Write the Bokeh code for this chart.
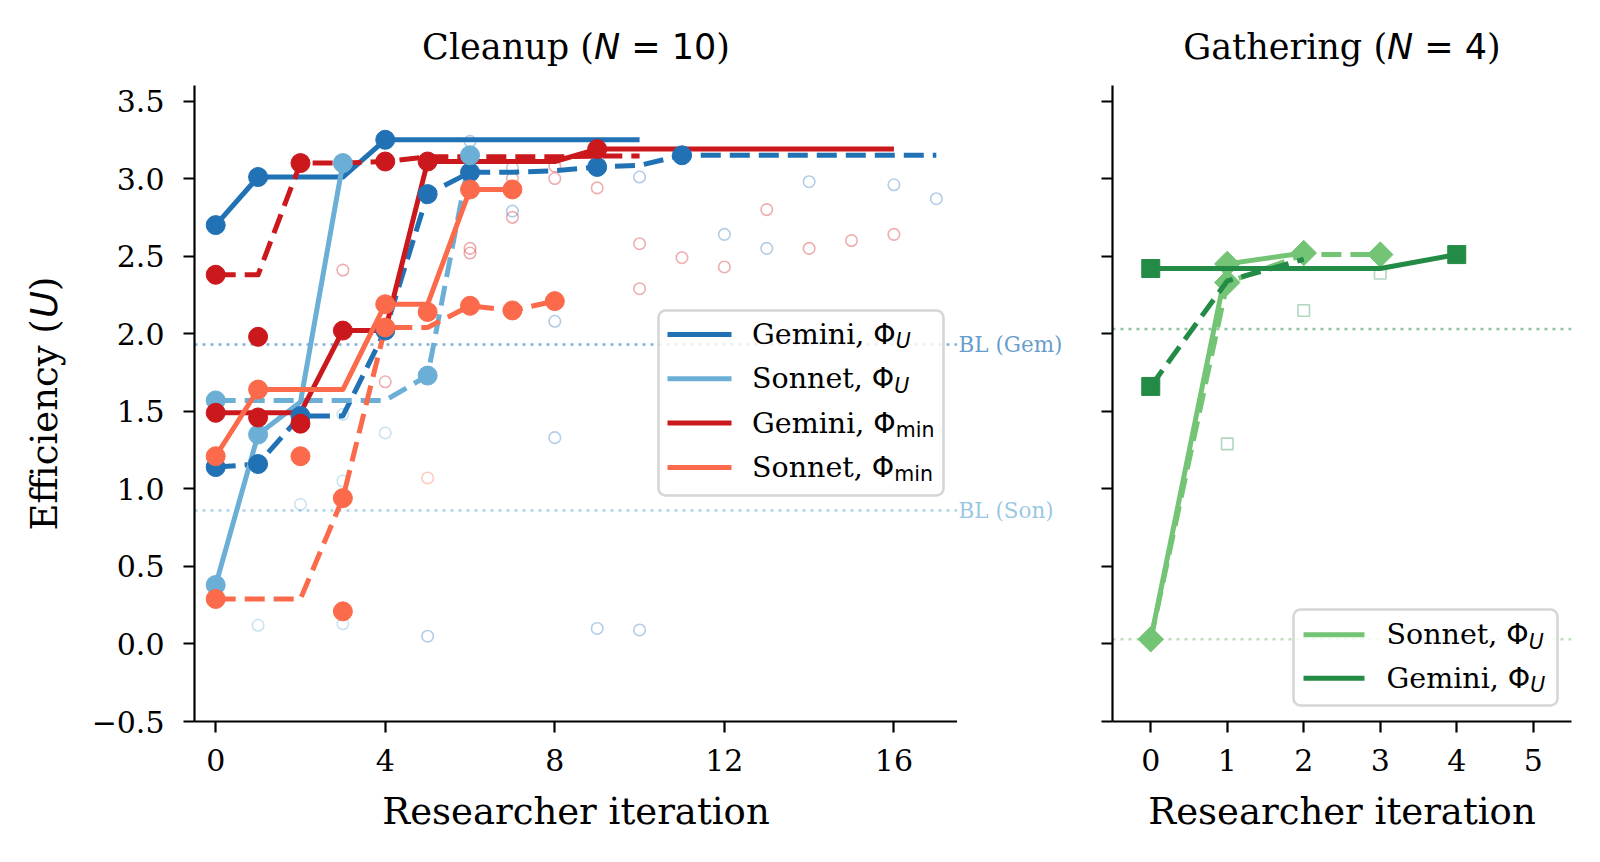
import glob
import os
import struct

import numpy as np
from bokeh.embed import file_html
from bokeh.layouts import column, row
from bokeh.models import (BoxAnnotation, CustomJSTickFormatter, FixedTicker,
                          Label, Range1d, Span)
from bokeh.plotting import figure
from bokeh.resources import INLINE

# ------------------------------------------------------------------
# Cleanup (N = 10): efficiency of the policy per researcher iteration
# run A = solid line, run B = dashed line; filled = kept, hollow = others
# ------------------------------------------------------------------
gem_u_a_x = [0, 1, 2, 3, 4, 5, 6, 7, 8, 9, 10]
gem_u_a_y = [2.70, 3.01, 3.01, 3.01, 3.25, 3.25, 3.25, 3.25, 3.25, 3.25, 3.25]
gem_u_a_pts_x = [0, 1, 4]
gem_u_a_pts_y = [2.70, 3.01, 3.25]

gem_u_b_x = [0, 1, 2, 3, 4, 5, 6, 7, 8, 9, 10, 11, 12, 13, 14, 15, 16, 17]
gem_u_b_y = [1.14, 1.16, 1.47, 1.47, 2.02, 2.90, 3.04, 3.04, 3.05, 3.075, 3.085,
             3.15, 3.15, 3.15, 3.15, 3.15, 3.15, 3.15]
gem_u_b_pts_x = [0, 1, 2, 4, 5, 6, 9, 11]
gem_u_b_pts_y = [1.14, 1.16, 1.47, 2.02, 2.90, 3.04, 3.075, 3.15]

gem_u_other_x = [5, 6, 7, 7, 8, 8, 9, 10, 10, 12, 13, 14, 16, 17]
gem_u_other_y = [0.05, 3.24, 3.07, 2.79, 2.08, 1.33, 0.10, 3.01, 0.09, 2.64, 2.55,
                 2.98, 2.96, 2.87]

son_u_a_x = [0, 1, 2, 3]
son_u_a_y = [0.38, 1.35, 1.56, 3.10]
son_u_a_pts_x = [0, 1, 3]
son_u_a_pts_y = [0.38, 1.35, 3.10]

son_u_b_x = [0, 1, 2, 3, 4, 5, 6]
son_u_b_y = [1.57, 1.57, 1.57, 1.57, 1.57, 1.73, 3.15]
son_u_b_pts_x = [0, 5, 6]
son_u_b_pts_y = [1.57, 1.73, 3.15]

son_u_other_x = [1, 2, 3, 3, 3, 4]
son_u_other_y = [0.12, 0.90, 1.05, 0.13, 1.48, 1.36]

gem_min_a_x = [0, 1, 2, 3, 4, 5, 6, 7, 8, 9, 10, 11, 12, 13, 14, 15, 16]
gem_min_a_y = [1.49, 1.49, 1.49, 2.02, 2.02, 3.11, 3.11, 3.11, 3.11, 3.19, 3.19,
               3.19, 3.19, 3.19, 3.19, 3.19, 3.19]
gem_min_a_pts_x = [0, 1, 2, 3, 5, 9]
gem_min_a_pts_y = [1.49, 1.46, 1.42, 2.02, 3.11, 3.19]

gem_min_b_x = [0, 1, 2, 3, 4, 5, 6, 7, 8, 9, 10]
gem_min_b_y = [2.38, 2.38, 3.10, 3.10, 3.11, 3.14, 3.14, 3.14, 3.14, 3.145, 3.145]
gem_min_b_pts_x = [0, 1, 2, 4]
gem_min_b_pts_y = [2.38, 1.98, 3.10, 3.11]

gem_min_other_x = [3, 4, 6, 6, 7, 7, 8, 8, 9, 10, 10, 11, 12, 13, 14, 15, 16]
gem_min_other_y = [2.41, 1.69, 2.55, 2.52, 2.75, 3.00, 3.08, 3.00, 2.94, 2.58, 2.29,
                   2.49, 2.43, 2.80, 2.55, 2.60, 2.64]

son_min_a_x = [0, 1, 2, 3, 4, 5, 6, 7]
son_min_a_y = [1.21, 1.64, 1.64, 1.64, 2.19, 2.19, 2.93, 2.93]
son_min_a_pts_x = [0, 1, 2, 4, 5, 6, 7]
son_min_a_pts_y = [1.21, 1.64, 1.21, 2.19, 2.14, 2.93, 2.93]

son_min_b_x = [0, 1, 2, 3, 4, 5, 6, 7, 8]
son_min_b_y = [0.29, 0.29, 0.29, 0.94, 2.04, 2.04, 2.18, 2.15, 2.21]
son_min_b_pts_x = [0, 3, 3, 4, 6, 7, 8]
son_min_b_pts_y = [0.29, 0.94, 0.21, 2.04, 2.18, 2.15, 2.21]

son_min_other_x = [5]
son_min_other_y = [1.07]

cleanup_baselines = [1.93, 0.86]
cleanup_baseline_labels = ["BL (Gem)", "BL (Son)"]

# ------------------------------------------------------------------
# Gathering (N = 4)
# ------------------------------------------------------------------
son_g_a_x = [0, 1, 2]
son_g_a_y = [0.03, 2.45, 2.52]
son_g_b_x = [0, 1, 2, 3]
son_g_b_y = [0.03, 2.33, 2.51, 2.51]
son_g_pts_x = [0, 1, 2, 1, 3]
son_g_pts_y = [0.03, 2.45, 2.52, 2.33, 2.51]

gem_g_a_x = [0, 1, 2, 3, 4]
gem_g_a_y = [2.42, 2.42, 2.42, 2.42, 2.51]
gem_g_b_x = [0, 1, 2]
gem_g_b_y = [1.66, 2.34, 2.48]
gem_g_pts_x = [0, 4, 0]
gem_g_pts_y = [2.42, 2.51, 1.66]
gem_g_other_x = [1, 2, 3]
gem_g_other_y = [1.29, 2.15, 2.39]

gathering_baselines = [2.03, 0.03]

y_ticks = [-0.5, 0.0, 0.5, 1.0, 1.5, 2.0, 2.5, 3.0, 3.5]
cleanup_x_ticks = [0, 4, 8, 12, 16]
gathering_x_ticks = [0, 1, 2, 3, 4, 5]

C_GEM_U = "#2171b5"
C_SON_U = "#6baed6"
C_GEM_MIN = "#cb181d"
C_SON_MIN = "#fb6a4a"
C_SON_G = "#74c476"
C_GEM_G = "#238b45"

DASH = "20 9"
DOT = "3 5"
LW = 5


# ------------------------------------------------------------------
# glyph advance widths, used to lay out mixed-font labels
# ------------------------------------------------------------------
def _find_font(name):
    for root in ("/usr/share/fonts", "/usr/local/share/fonts",
                 os.path.expanduser("~/.fonts"), os.path.expanduser("~/.local/share/fonts")):
        hits = glob.glob(os.path.join(root, "**", name), recursive=True)
        if hits:
            return hits[0]
    return None


class FontMetrics:
    def __init__(self, filename, fallback_em):
        self.fallback_em = fallback_em
        self.ok = False
        path = _find_font(filename)
        if path:
            try:
                self._load(path)
                self.ok = True
            except Exception:
                self.ok = False

    def _load(self, path):
        with open(path, "rb") as fh:
            data = fh.read()
        n_tables = struct.unpack_from(">H", data, 4)[0]
        tables = {}
        for i in range(n_tables):
            tag, _chk, off, _ln = struct.unpack_from(">4sIII", data, 12 + 16 * i)
            tables[tag] = off
        self.upem = struct.unpack_from(">H", data, tables[b"head"] + 18)[0]
        n_hm = struct.unpack_from(">H", data, tables[b"hhea"] + 34)[0]
        hmtx = tables[b"hmtx"]
        self.adv = [struct.unpack_from(">H", data, hmtx + 4 * i)[0] for i in range(n_hm)]
        cmap = tables[b"cmap"]
        n_sub = struct.unpack_from(">H", data, cmap + 2)[0]
        self.glyph = {}
        for i in range(n_sub):
            pid, eid, off = struct.unpack_from(">HHI", data, cmap + 4 + 8 * i)
            sub = cmap + off
            if struct.unpack_from(">H", data, sub)[0] != 4 or (pid, eid) not in ((3, 1), (0, 3)):
                continue
            seg2 = struct.unpack_from(">H", data, sub + 6)[0]
            n = seg2 // 2
            ends = struct.unpack_from(">%dH" % n, data, sub + 14)
            starts = struct.unpack_from(">%dH" % n, data, sub + 16 + seg2)
            deltas = struct.unpack_from(">%dh" % n, data, sub + 16 + 2 * seg2)
            ro_base = sub + 16 + 3 * seg2
            offsets = struct.unpack_from(">%dH" % n, data, ro_base)
            for s in range(n):
                for code in range(starts[s], ends[s] + 1):
                    if code == 0xFFFF:
                        continue
                    if offsets[s] == 0:
                        g = (code + deltas[s]) & 0xFFFF
                    else:
                        addr = ro_base + 2 * s + offsets[s] + 2 * (code - starts[s])
                        g = struct.unpack_from(">H", data, addr)[0]
                        if g:
                            g = (g + deltas[s]) & 0xFFFF
                    self.glyph[code] = g
            break

    def width(self, text, size):
        if not self.ok:
            return self.fallback_em * size * len(text)
        total = 0
        for ch in text:
            g = self.glyph.get(ord(ch), 0)
            total += self.adv[g] if g < len(self.adv) else self.adv[-1]
        return total / self.upem * size


METRICS = {
    "serif": FontMetrics("DejaVuSerif.ttf", 0.60),
    "sans": FontMetrics("DejaVuSans.ttf", 0.62),
    "sans-it": FontMetrics("DejaVuSans-Oblique.ttf", 0.62),
}
FACE = {"serif": ("DejaVu Serif", "normal"),
        "sans": ("DejaVu Sans", "normal"),
        "sans-it": ("DejaVu Sans", "italic")}
# Label anchors sit this fraction of the font size above the drawn baseline
BASELINE_SHIFT = 0.37


class Panel:
    """Maps page pixel positions onto a figure's data space."""

    def __init__(self, fig, left, top, width, height, xr, yr):
        self.fig, self.left, self.top = fig, left, top
        self.width, self.height, self.xr, self.yr = width, height, xr, yr

    def to_data(self, px, py):
        x = self.xr[0] + (px - self.left) / self.width * (self.xr[1] - self.xr[0])
        y = self.yr[1] - (py - self.top) / self.height * (self.yr[1] - self.yr[0])
        return x, y

    def page_y(self, y):
        return self.top + (self.yr[1] - y) / (self.yr[1] - self.yr[0]) * self.height

    def put_text(self, pieces, px, py, align="left", angle=0.0, color="black", alpha=1.0):
        """Draws runs of text in different faces side by side on one baseline."""
        widths = [METRICS[k].width(t, s) for t, k, s, _ in pieces]
        offset = -sum(widths) / 2 if align == "center" else 0.0
        for (t, k, s, rise), w in zip(pieces, widths):
            body = t.strip()
            lead = METRICS[k].width(t[:len(t) - len(t.lstrip())], s)
            drop = rise - BASELINE_SHIFT * s
            if angle == 0:
                qx, qy = px + offset + lead, py + drop
            else:
                qx, qy = px + drop, py - offset - lead
            x, y = self.to_data(qx, qy)
            family, style = FACE[k]
            self.fig.add_layout(Label(
                x=x, y=y, text=body, text_font=family, text_font_style=style,
                text_font_size=f"{s}px", text_color=color, text_alpha=alpha,
                text_align="left", text_baseline="alphabetic", angle=angle))
            offset += w

    def box(self, x0, y0, x1, y1, **kw):
        l, t = self.to_data(x0, y0)
        r, b = self.to_data(x1, y1)
        self.fig.add_layout(BoxAnnotation(left=l, right=r, top=t, bottom=b, **kw))


# page geometry (pixels)
PAGE_W, PAGE_H = 1600, 862
TOP_STRIP = 85
FRAME_H = 636
AXIS_BELOW = 70
MID_H = FRAME_H + AXIS_BELOW
BOTTOM_STRIP = PAGE_H - TOP_STRIP - MID_H
YLAB_W = 80
P1_LEFT, P1_FRAME_W = 114, 763
GAP_W = 115
P2_LEFT, P2_FRAME_W, P2_RIGHT = 40, 459, 29
YR = (-0.5, 3.6)


def text_strip(width, height, left, top, below=0):
    """A bare canvas for text; `below` keeps its frame level with the plots beside it."""
    frame_h = height - below
    f = figure(width=width, height=height, x_range=Range1d(0, width),
               y_range=Range1d(frame_h, 0), output_backend="svg", toolbar_location=None,
               x_axis_location=None, y_axis_location=None,
               min_border_left=0, min_border_right=0, min_border_top=0,
               min_border_bottom=below)
    f.outline_line_color = None
    f.background_fill_color = "white"
    f.border_fill_color = "white"
    for g in f.grid:
        g.visible = False
    return Panel(f, left, top, width, frame_h, (0, width), (frame_h, 0))


def make_figure(frame_w, xr, border_left, border_right):
    p = figure(width=border_left + frame_w + border_right, height=MID_H,
               x_range=Range1d(*xr), y_range=Range1d(*YR),
               output_backend="svg", toolbar_location=None,
               min_border_left=border_left, min_border_right=border_right,
               min_border_top=0, min_border_bottom=AXIS_BELOW)
    p.xgrid.visible = False
    p.ygrid.visible = False
    p.outline_line_color = None
    p.background_fill_color = "white"
    p.border_fill_color = "white"
    for ax in (p.xaxis[0], p.yaxis[0]):
        ax.axis_line_width = 2.2
        ax.axis_line_color = "black"
        ax.major_tick_line_width = 2.2
        ax.major_tick_line_color = "black"
        ax.major_tick_out = 11
        ax.major_tick_in = 0
        ax.minor_tick_line_color = None
        ax.major_label_text_font = "DejaVu Serif"
        ax.major_label_text_font_size = "30px"
        ax.major_label_text_color = "black"
    p.yaxis[0].ticker = FixedTicker(ticks=y_ticks)
    p.yaxis[0].major_label_standoff = 19
    p.xaxis[0].major_label_standoff = 16
    p.xaxis[0].formatter = CustomJSTickFormatter(code="return tick.toFixed(0);")
    return p


def run(p, xs, ys, color, dash):
    p.line(xs, ys, line_color=color, line_width=LW, line_dash=dash, line_join="round")


def kept(p, xs, ys, color, marker="circle", size=19, angle=0.0):
    p.scatter(xs, ys, marker=marker, size=size, angle=angle,
              fill_color=color, line_color=color, line_width=1)


def others(p, xs, ys, color, marker="circle", size=11.5):
    p.scatter(xs, ys, marker=marker, size=size, fill_color=None,
              line_color=color, line_alpha=0.35, line_width=1.6)


# ------------------------------- left panel -------------------------------
XR1 = (-0.5, 17.5)
p1 = make_figure(P1_FRAME_W, XR1, P1_LEFT, 0)
p1.yaxis[0].formatter = CustomJSTickFormatter(
    code="return tick < 0 ? '\u2212' + (-tick).toFixed(1) : tick.toFixed(1);")
p1.xaxis[0].ticker = FixedTicker(ticks=cleanup_x_ticks)
frame1_left = YLAB_W + P1_LEFT
left = Panel(p1, frame1_left, TOP_STRIP, P1_FRAME_W, FRAME_H, XR1, YR)

for level, color in zip(cleanup_baselines, [C_GEM_U, C_SON_U]):
    p1.add_layout(Span(location=level, dimension="width", line_color=color,
                       line_alpha=0.55, line_width=2.6, line_dash=DOT, level="underlay"))

others(p1, gem_u_other_x, gem_u_other_y, C_GEM_U)
others(p1, son_u_other_x, son_u_other_y, C_SON_U)
others(p1, gem_min_other_x, gem_min_other_y, C_GEM_MIN)
others(p1, son_min_other_x, son_min_other_y, C_SON_MIN)

run(p1, gem_u_a_x, gem_u_a_y, C_GEM_U, "solid")
run(p1, gem_u_b_x, gem_u_b_y, C_GEM_U, DASH)
run(p1, son_u_a_x, son_u_a_y, C_SON_U, "solid")
run(p1, son_u_b_x, son_u_b_y, C_SON_U, DASH)
run(p1, gem_min_a_x, gem_min_a_y, C_GEM_MIN, "solid")
run(p1, gem_min_b_x, gem_min_b_y, C_GEM_MIN, DASH)
run(p1, son_min_a_x, son_min_a_y, C_SON_MIN, "solid")
run(p1, son_min_b_x, son_min_b_y, C_SON_MIN, DASH)

kept(p1, gem_u_a_pts_x, gem_u_a_pts_y, C_GEM_U)
kept(p1, gem_u_b_pts_x, gem_u_b_pts_y, C_GEM_U)
kept(p1, son_u_a_pts_x, son_u_a_pts_y, C_SON_U)
kept(p1, son_u_b_pts_x, son_u_b_pts_y, C_SON_U)
kept(p1, gem_min_a_pts_x, gem_min_a_pts_y, C_GEM_MIN)
kept(p1, gem_min_b_pts_x, gem_min_b_pts_y, C_GEM_MIN)
kept(p1, son_min_a_pts_x, son_min_a_pts_y, C_SON_MIN)
kept(p1, son_min_b_pts_x, son_min_b_pts_y, C_SON_MIN)

# ------------------------------- right panel ------------------------------
XR2 = (-0.5, 5.5)
p2 = make_figure(P2_FRAME_W, XR2, P2_LEFT, P2_RIGHT)
p2.yaxis[0].formatter = CustomJSTickFormatter(code="return '';")
p2.yaxis[0].major_label_standoff = 0
p2.xaxis[0].ticker = FixedTicker(ticks=gathering_x_ticks)
p2_page_left = YLAB_W + P1_LEFT + P1_FRAME_W + GAP_W
right = Panel(p2, p2_page_left + P2_LEFT, TOP_STRIP, P2_FRAME_W, FRAME_H, XR2, YR)

for level, color in zip(gathering_baselines, [C_GEM_G, C_SON_G]):
    p2.add_layout(Span(location=level, dimension="width", line_color=color,
                       line_alpha=0.5, line_width=2.6, line_dash=DOT, level="underlay"))

others(p2, gem_g_other_x, gem_g_other_y, C_GEM_G, marker="square", size=11.5)
run(p2, son_g_a_x, son_g_a_y, C_SON_G, "solid")
run(p2, son_g_b_x, son_g_b_y, C_SON_G, DASH)
kept(p2, son_g_pts_x, son_g_pts_y, C_SON_G, marker="square", size=18, angle=np.pi / 4)
run(p2, gem_g_a_x, gem_g_a_y, C_GEM_G, "solid")
run(p2, gem_g_b_x, gem_g_b_y, C_GEM_G, DASH)
kept(p2, gem_g_pts_x, gem_g_pts_y, C_GEM_G, marker="square", size=18)

# ------------------------------- legends ----------------------------------
LEG, SUB = 28.5, 20.5


def legend(panel, box, entries, line_x0, line_x1, text_x, row0, step):
    x0, y0, x1, y1 = box
    panel.box(x0, y0, x1, y1, fill_color="white", fill_alpha=0.8, line_color="#cccccc",
              line_alpha=0.8, line_width=2.6, border_radius=7)
    for i, (name, sub, color) in enumerate(entries):
        cy = row0 + i * step
        panel.box(line_x0, cy - 2.5, line_x1, cy + 2.5, fill_color=color, fill_alpha=1.0,
                  line_color=None)
        sub_font = "sans-it" if sub == "U" else "sans"
        panel.put_text([(name + ", ", "serif", LEG, 0), ("\u03a6", "sans", LEG, 0),
                        (sub, sub_font, SUB, 4)], text_x, cy + 10.5)


legend(left, (658, 310, 943, 495),
       [("Gemini", "U", C_GEM_U), ("Sonnet", "U", C_SON_U),
        ("Gemini", "min", C_GEM_MIN), ("Sonnet", "min", C_SON_MIN)],
       667, 731, 751.5, 334, 44.3)
legend(right, (1293, 609, 1557, 705),
       [("Sonnet", "U", C_SON_G), ("Gemini", "U", C_GEM_G)],
       1303, 1364, 1386, 634.3, 43.4)

# ------------------------------- titles and axis labels -------------------
TITLE, LABEL, BL_SIZE = 35, 37, 21.5
frame1_mid = frame1_left + P1_FRAME_W / 2
frame2_mid = p2_page_left + P2_LEFT + P2_FRAME_W / 2

top = text_strip(PAGE_W, TOP_STRIP, 0, 0)
top.put_text([("Cleanup (", "serif", TITLE, 0), ("N", "sans-it", TITLE, 0),
              (" = 10", "sans", TITLE, 0), (")", "serif", TITLE, 0)],
             frame1_mid, 59, align="center")
top.put_text([("Gathering (", "serif", TITLE, 0), ("N", "sans-it", TITLE, 0),
              (" = 4", "sans", TITLE, 0), (")", "serif", TITLE, 0)],
             frame2_mid, 59, align="center")

bottom = text_strip(PAGE_W, BOTTOM_STRIP, 0, TOP_STRIP + MID_H)
bottom.put_text([("Researcher iteration", "serif", LABEL, 0)], frame1_mid, 825, align="center")
bottom.put_text([("Researcher iteration", "serif", LABEL, 0)], frame2_mid, 825, align="center")

ylab = text_strip(YLAB_W, MID_H, 0, TOP_STRIP, below=AXIS_BELOW)
ylab.put_text([("Efficiency (", "serif", LABEL, 0), ("U", "sans-it", LABEL, 0),
               (")", "serif", LABEL, 0)], 58, TOP_STRIP + FRAME_H / 2,
              align="center", angle=np.pi / 2)

gap = text_strip(GAP_W, MID_H, frame1_left + P1_FRAME_W, TOP_STRIP, below=AXIS_BELOW)
for level, text, color in zip(cleanup_baselines, cleanup_baseline_labels, [C_GEM_U, C_SON_U]):
    gap.put_text([(text, "serif", BL_SIZE, 0)], frame1_left + P1_FRAME_W + 1,
                 left.page_y(level) + 0.36 * BL_SIZE, color=color, alpha=0.7)

layout = column(top.fig, row(ylab.fig, p1, gap.fig, p2), bottom.fig)
open("out.html", "w").write(file_html(layout, INLINE))
